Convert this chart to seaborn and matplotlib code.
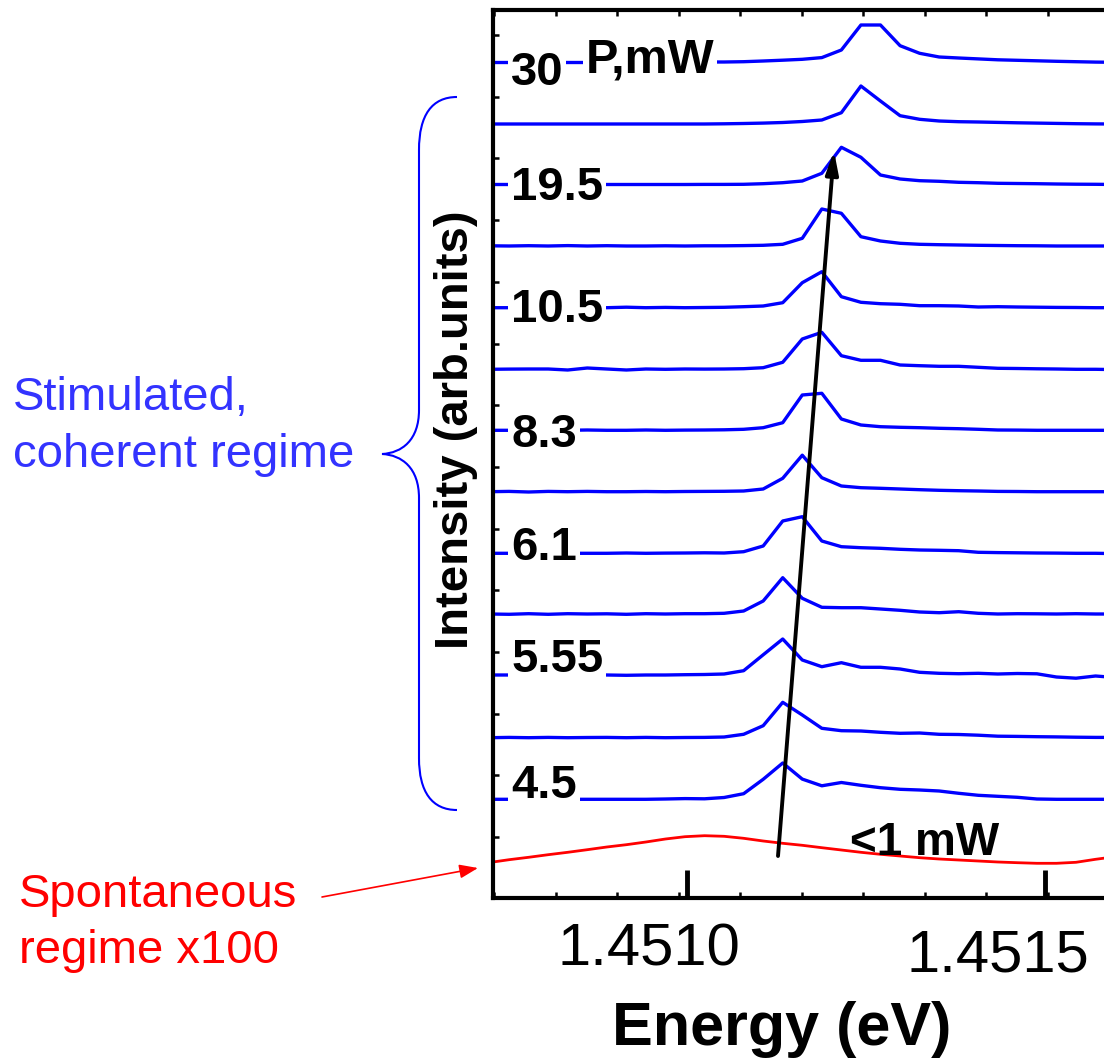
import numpy as np
import matplotlib
matplotlib.use("Agg")
import matplotlib.pyplot as plt
import seaborn as sns
from matplotlib.path import Path
from matplotlib.patches import PathPatch
from matplotlib import transforms
from matplotlib.ticker import FixedLocator

# ---------------- data ----------------
energy_eV = [1.4507242, 1.4507515, 1.4507788, 1.4508061, 1.4508334, 1.4508607,
             1.4508880, 1.4509153, 1.4509426, 1.4509699, 1.4509972, 1.4510245,
             1.4510518, 1.4510791, 1.4511064, 1.4511337, 1.4511610, 1.4511883,
             1.4512156, 1.4512429, 1.4512702, 1.4512976, 1.4513249, 1.4513522,
             1.4513795, 1.4514068, 1.4514341, 1.4514614, 1.4514887, 1.4515160,
             1.4515433, 1.4515706, 1.4515979]

# stacked spectra, top (highest power) to bottom; intensity above each baseline
trace_01 = [0, 0, 0, 0, 0, 0, 0, 0, 0, 0, 0.2, 0.5, 0.5, 0.8, 1.5, 2.3, 3.2, 4.9, 12.5, 37.5, 37.5, 16.8, 9.2, 5.5, 4.5, 3.6, 2.7, 2.2, 1.7, 1.2, 0.8, 0.4, 0.2]
trace_02 = [0, 0, 0, 0, 0, 0, 0, 0, 0, 0, 0, 0, 0.2, 0.5, 0.9, 1.5, 2.5, 4.0, 11.3, 38.0, 23.0, 8.3, 4.7, 3.0, 2.3, 2.0, 1.6, 1.2, 0.9, 0.6, 0.3, 0.1, 0]
trace_03 = [0, 0, 0, 0, 0, 0, 0, 0, 0, 0, 0, 0.1, 0.1, 0.2, 0.8, 1.8, 3.5, 11.2, 37.2, 27.2, 9.5, 5.5, 3.8, 3.2, 2.2, 1.8, 1.2, 1.0, 0.8, 0.5, 0.3, 0.2, 0]
trace_04 = [0.2, 0, 0.3, 0, 0.4, 0, 0.3, 0, 0, 0.2, 0, 0.2, 0.2, 0.4, 0.7, 1.7, 7.7, 37.0, 32.7, 9.3, 5.0, 2.7, 1.7, 1.3, 1.0, 0.7, 0.5, 0.3, 0.2, 0, 0, 0, 0]
trace_05 = [0, 0, 0, 0, 0, 0, 0, 0.5, 0, 0.3, 0, 0.2, 0.4, 1.0, 1.7, 5.0, 25.0, 36.0, 11.0, 5.4, 4.0, 3.4, 2.0, 2.0, 1.7, 0.7, 1.0, 0.7, 0.5, 0.3, 0.2, 0, 0]
trace_06 = [0, 0.2, 0.3, 0.3, -0.7, 1.3, 0.3, -0.7, 0.3, 0, 0.3, 0.2, 0.3, 0.6, 1.6, 7.0, 30.3, 37.0, 13.6, 9.0, 9.0, 4.3, 3.6, 3.0, 3.0, 2.0, 1.0, 0.8, 0.5, 0.3, 0, 0, -0.3]
trace_07 = [0, 0, 0, 0, 0, 0.3, 0, 0, 0.3, 0, 0.2, 0.3, 0.5, 1.0, 2.6, 7.6, 35.3, 37.0, 11.3, 5.3, 3.6, 3.0, 2.6, 2.0, 1.6, 1.0, 0.3, 0.2, 0, 0, 0, 0, 0]
trace_08 = [0, 0.3, -0.3, 0.3, 0, 0.3, 0, 0, 0.2, 0, 0.2, 0.3, 0.4, 0.7, 2.7, 13.4, 36.5, 14.0, 5.7, 4.0, 3.4, 2.7, 2.0, 1.4, 1.0, 0.7, 0.3, 0.2, 0, 0, 0, 0, 0]
trace_09 = [0, 0, 0, 0, 0, 0, 0, 0.3, 0, 0.2, 0.3, 0.5, 0.3, 1.6, 7.3, 32.3, 36.6, 12.3, 6.6, 5.6, 5.0, 4.0, 3.3, 3.0, 2.6, 1.0, 0.7, 0.5, 0.3, 0.2, 0, 0, -0.3]
trace_10 = [0, -0.3, 0.3, -0.3, 0.3, 0, 0.2, -0.3, 0.3, 0, 0.3, 0.3, 0.7, 3.0, 13.0, 36.3, 15.7, 6.7, 6.3, 6.3, 5.0, 3.7, 2.0, 1.3, 2.3, 0.7, 0, 0.3, 0.2, 0, 0.3, 0, 0]
trace_11 = [0, 0, 0.3, 0, -0.3, 0.3, 0, -0.3, 0, 0, 0.3, 0.5, 1.0, 4.3, 20.2, 36.0, 15.0, 8.3, 12.3, 7.7, 7.7, 6.0, 2.7, 1.7, 1.3, 1.7, 1.0, 1.5, 1.2, -2.0, -3.2, -1.0, -2.5]
trace_12 = [0, 0.3, 0, 0.3, 0, 0.2, 0.3, 0, 0.3, 0, 0.2, 0.3, 0.7, 3.4, 12.0, 35.4, 22.7, 9.4, 7.0, 6.7, 5.4, 4.4, 4.7, 3.4, 3.2, 2.5, 1.5, 1.3, 1.0, 0.8, 0.5, 0.3, 0.3]
trace_13 = [0, 0, 0, -0.3, 0, 0, 0, 0, 0, 0.3, 0.7, 0.5, 1.8, 5.6, 20.0, 36.3, 20.2, 13.5, 16.8, 14.0, 11.6, 10.0, 9.3, 8.3, 6.0, 4.0, 3.0, 2.0, 0.3, 0, 0, 0, 0]
stimulated_traces = [trace_01, trace_02, trace_03, trace_04, trace_05, trace_06, trace_07,
                     trace_08, trace_09, trace_10, trace_11, trace_12, trace_13]
trace_offsets = [835.5, 774.0, 713.5, 652.0, 590.3, 528.7, 467.7, 406.3, 344.7, 284.0, 223.0, 160.3, 98.7]

# spontaneous emission (x100), red
spontaneous = [-0.5, 2.3, 4.7, 7.3, 9.7, 12.3, 15.0, 17.3, 20.0, 23.0, 25.3, 26.3, 25.7, 23.7,
               21.0, 18.7, 16.7, 14.3, 12.0, 9.7, 7.7, 6.0, 4.3, 3.0, 2.0, 1.0, 0.0, -0.7,
               -1.3, -1.3, -0.3, 2.7, 5.3]
spontaneous_offset = 36.0

# power labels (mW) and the traces they belong to
power_labels = ["30", "19.5", "10.5", "8.3", "6.1", "5.55", "4.5"]
power_label_y = [813, 698, 576, 451, 338, 226, 100]

xtick_values = [1.4510, 1.4515]
xtick_labels = ["1.4510", "1.4515"]

# peak-shift arrow (energy, intensity)
shift_tail = (1.4511271, 42)
shift_head = (1.4512053, 747)

# ---------------- figure ----------------
W, H = 1104, 1062
sns.set_theme(style="white")
plt.rcParams["font.family"] = ["Liberation Sans", "DejaVu Sans"]

fig = plt.figure(figsize=(W / 100, H / 100), dpi=100)
ax = fig.add_axes([493 / W, 164 / H, 611 / W, 888 / H])

e = np.array(energy_eV)
for off, tr in zip(trace_offsets, stimulated_traces):
    sns.lineplot(x=e, y=np.array(tr) + off, ax=ax, color="#0000ff", lw=2.4,
                 estimator=None, sort=False, zorder=2)
sns.lineplot(x=e, y=np.array(spontaneous) + spontaneous_offset, ax=ax, color="#ff0000",
             lw=2.0, estimator=None, sort=False, zorder=2)

ax.set_xlim(1.45072905, 1.4515824)
ax.set_ylim(0, 888)

for s in ["left", "top", "bottom"]:
    ax.spines[s].set_visible(True)
    ax.spines[s].set_color("black")
    ax.spines[s].set_linewidth(3.0)
ax.spines["right"].set_visible(False)

ax.set_xticks(xtick_values)
ax.set_xticklabels(["", ""])
ax.set_yticks([])
ax.xaxis.set_minor_locator(FixedLocator(np.arange(1.45073045, 1.45158, 8.5894e-5)))
ax.yaxis.set_minor_locator(FixedLocator(np.arange(60.9, 870, 61.7)))
ax.tick_params(axis="x", which="major", direction="in", length=20, width=3.5,
               bottom=True, top=False, labelbottom=False, color="black")
ax.tick_params(axis="both", which="minor", direction="in", length=4, width=1.8,
               bottom=True, top=True, left=True, right=False, color="black")

for val, lab, dx, yb in zip(xtick_values, xtick_labels, [-38, -47], [-0.0755, -0.0833]):
    trn = transforms.offset_copy(ax.get_xaxis_transform(), fig=fig, x=dx, y=0, units="dots")
    ax.text(val, yb, lab, transform=trn, ha="center", va="baseline", fontsize=43, color="black")

ax.set_xlabel("Energy (eV)", fontsize=44, fontweight="bold", color="black")
ax.xaxis.label.set_va("baseline")
ax.xaxis.set_label_coords(0.473, -0.1655)
ax.set_ylabel("Intensity (arb.units)", fontsize=34, fontweight="bold", color="black")
ax.yaxis.label.set_va("baseline")
ax.yaxis.set_label_coords(-0.0409, 0.527)

# power labels with white background breaking the traces
for lab, yb in zip(power_labels, power_label_y):
    ax.text(0.0295, yb, lab, transform=ax.get_yaxis_transform(), fontsize=34,
            fontweight="bold", color="black", ha="left", va="baseline", zorder=4,
            bbox=dict(boxstyle="square,pad=0.06", fc="white", ec="none"))
ax.text(0.152, 825, "P,mW", transform=ax.get_yaxis_transform(), fontsize=35,
        fontweight="bold", color="black", ha="left", va="baseline", zorder=4,
        bbox=dict(boxstyle="square,pad=0.06", fc="white", ec="none"))
ax.text(0.584, 43, "<1 mW", transform=ax.get_yaxis_transform(), fontsize=33,
        fontweight="bold", color="black", ha="left", va="baseline", zorder=4)

# peak-shift arrow
ax.annotate("", xy=shift_head, xytext=shift_tail,
            arrowprops=dict(arrowstyle="-|>,head_length=0.9,head_width=0.25",
                            mutation_scale=15, lw=2.8, color="black",
                            shrinkA=0, shrinkB=0), zorder=5)

# ---------------- annotations outside the axes ----------------
def fpx(x, y):
    return (x / W, 1 - y / H)

fig.text(*fpx(13, 410), "Stimulated,", fontsize=34, color="#3333ff", ha="left", va="baseline")
fig.text(*fpx(13, 467), "coherent regime", fontsize=34, color="#3333ff", ha="left", va="baseline")
fig.text(*fpx(19, 907), "Spontaneous", fontsize=34, color="#ff0000", ha="left", va="baseline")
fig.text(*fpx(19, 963), "regime x100", fontsize=34, color="#ff0000", ha="left", va="baseline")

# curly brace
brace_px = [(457, 97), (432, 97), (419, 115), (419, 150),
            (419, 410),
            (419, 440), (402, 453), (382, 454),
            (402, 455), (419, 468), (419, 498),
            (419, 758),
            (419, 792), (432, 810), (457, 810)]
codes = [Path.MOVETO, Path.CURVE4, Path.CURVE4, Path.CURVE4,
         Path.LINETO,
         Path.CURVE4, Path.CURVE4, Path.CURVE4,
         Path.CURVE4, Path.CURVE4, Path.CURVE4,
         Path.LINETO,
         Path.CURVE4, Path.CURVE4, Path.CURVE4]
brace = PathPatch(Path([fpx(x, y) for x, y in brace_px], codes), transform=fig.transFigure,
                  fc="none", ec="#0000ff", lw=1.5)
fig.add_artist(brace)

# red pointer to the spontaneous trace
ax.annotate("", xy=(478, H - 868), xycoords="figure pixels",
            xytext=(322, H - 897), textcoords="figure pixels",
            arrowprops=dict(arrowstyle="-|>,head_length=0.8,head_width=0.3",
                            mutation_scale=14, lw=1.2, color="#ff0000",
                            shrinkA=0, shrinkB=0), annotation_clip=False)

fig.savefig("out.png", dpi=100, facecolor="white")
